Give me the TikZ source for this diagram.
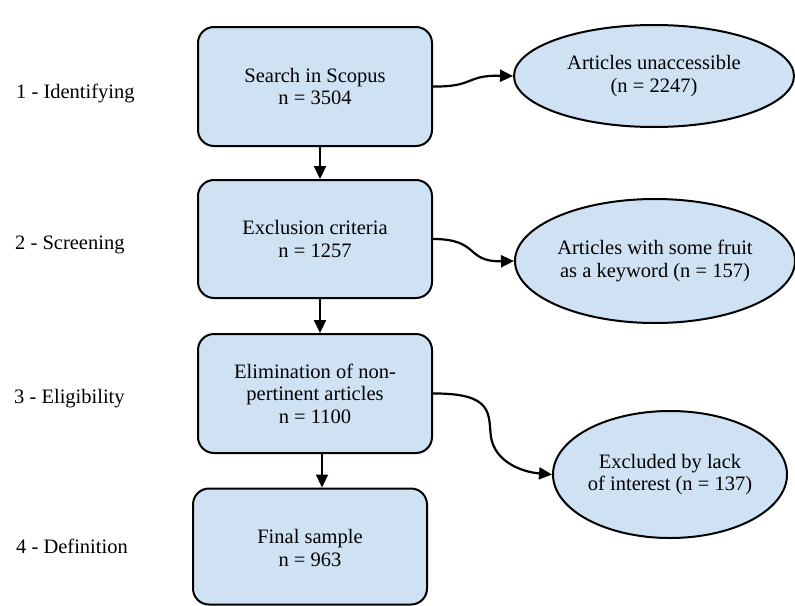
\documentclass[tikz,border=0pt]{standalone}
\usepackage{fontspec}
\setmainfont{Liberation Serif}
\usetikzlibrary{arrows.meta,shapes.geometric}
\definecolor{boxfill}{RGB}{207,226,243}
\tikzset{
  stagebox/.style={draw=black, line width=2pt, fill=boxfill, rounded corners=16pt,
    minimum width=234pt, align=center, inner sep=0pt},
  outell/.style={draw=black, line width=2pt, fill=boxfill, ellipse, align=center, inner sep=0pt},
  phase/.style={anchor=west, inner sep=0pt},
  conn/.style={line width=2.2pt, -{Triangle[length=13pt,width=12pt]}},
}
\begin{document}
\begin{tikzpicture}[x=1pt,y=-1pt,font=\fontsize{20.5}{22.5}\selectfont]
\useasboundingbox (0,0) rectangle (795,605);
% stage labels
\node[phase] (l1) at (16,93) {1 - Identifying};
\node[phase] (l2) at (15,245) {2 - Screening};
\node[phase] (l3) at (14,399) {3 - Eligibility};
\node[phase] (l4) at (16,546) {4 - Definition};
% boxes
\node[stagebox, minimum height=119pt] (b1) at (315,86.5) {Search in Scopus\\n = 3504};
\node[stagebox, minimum height=118pt] (b2) at (315,239) {Exclusion criteria\\n = 1257};
\node[stagebox, minimum height=119pt] (b3) at (315,393.5) {Elimination of non-\\pertinent articles\\n = 1100};
\node[stagebox, minimum height=116pt] (b4) at (310,546.5) {\raisebox{-9pt}[0pt][0pt]{\begin{tabular}{@{}c@{}}Final sample\\n = 963\end{tabular}}};
% ellipses
\node[outell, minimum width=280pt, minimum height=102pt] (e1) at (654,76) {Articles unaccessible\\(n = 2247)};
\node[outell, minimum width=280pt, minimum height=124pt] (e2) at (655,261) {Articles with some fruit\\as a keyword (n = 157)};
\node[outell, minimum width=234pt, minimum height=127pt] (e3) at (670,474.5) {Excluded by lack\\of interest (n = 137)};
% vertical arrows
\draw[conn] ([xshift=5pt]b1.south) -- ([xshift=5pt]b2.north);
\draw[conn] ([xshift=5pt]b2.south) -- ([xshift=5pt]b3.north);
\draw[conn] ([xshift=7pt]b3.south) -- ([xshift=12pt]b4.north);
% side arrows
\draw[conn] (b1.east) .. controls (475,87) and (465,75) .. (e1.west);
\draw[conn] (b2.east) .. controls (480,239) and (465,262) .. (e2.west);
\draw[conn] (b3.east) .. controls (495,393) and (488,415) .. (491,437) .. controls (495,462) and (522,472) .. (e3.west);
\end{tikzpicture}
\end{document}
